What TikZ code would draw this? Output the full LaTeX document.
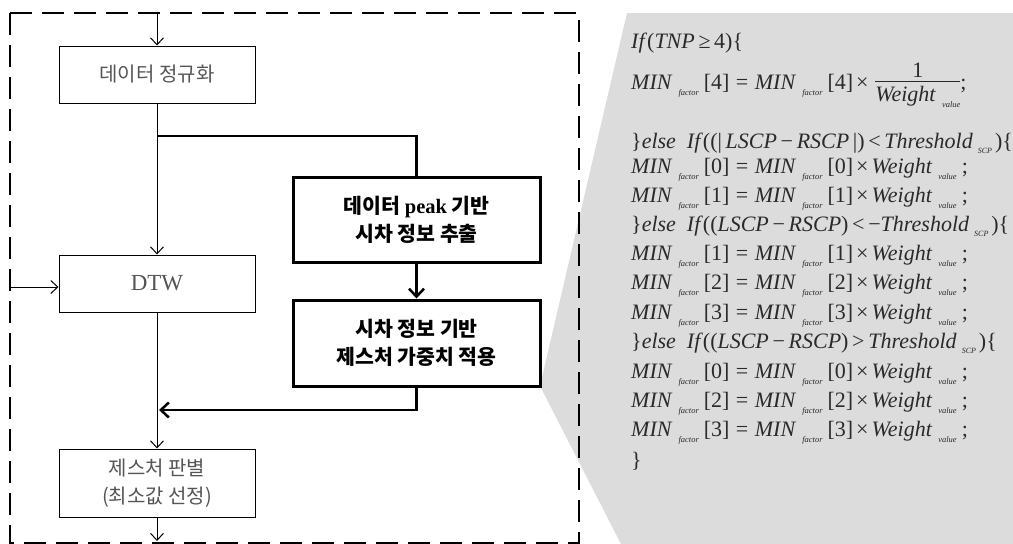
\documentclass[tikz,border=0pt]{standalone}
\usepackage{fontspec}
\setmainfont{Liberation Serif}
\newfontfamily\kr{Noto Sans CJK KR}
\usetikzlibrary{arrows.meta}
\definecolor{panelgray}{HTML}{DCDCDC}
\definecolor{codetext}{HTML}{2A2A2A}
\definecolor{lighttext}{HTML}{555555}
\newcommand\sbx[1]{\hspace{6pt}\raisebox{-6.5pt}{\fontsize{8.5}{8.5}\selectfont\itshape #1}\hspace{5pt}}
\newcommand\sbs[1]{\hspace{5pt}\raisebox{-5pt}{\fontsize{8}{8}\selectfont\itshape #1}\hspace{3pt}}
\newcommand\MINF{\textit{MIN}\sbx{factor}}
\newcommand\WV{\textit{Weight}\sbx{value}}
\newcommand\EQ{\hspace{6.5pt}=\hspace{6.5pt}}
\newcommand\TM{\hspace{3pt}×\hspace{3pt}}
\begin{document}
\begin{tikzpicture}[x=1pt,y=-1pt,
  thinbox/.style={draw, line width=1pt, minimum width=196pt, minimum height=57pt, inner sep=0pt,
    font=\kr\fontsize{20}{20}\selectfont, text=lighttext},
  boldbox/.style={draw, line width=3pt, minimum width=247pt, minimum height=85pt, inner sep=0pt,
    font=\kr\bfseries\fontsize{20.5}{28}\selectfont, align=center},
  thinline/.style={line width=1pt},
  boldline/.style={line width=2.5pt},
  thintip/.style={-{Straight Barb[length=7pt,width=13pt]}},
  boldtip/.style={-{Straight Barb[length=8pt,width=15pt]}},
  codeline/.style={anchor=base west, inner sep=0pt, font=\fontsize{22}{22}\selectfont, text=codetext}
]
\useasboundingbox (0,0) rectangle (1013,544);
\fill[white] (0,0) rectangle (1013,544);

% grey callout panel
\fill[panelgray] (627,13) -- (1013,13) -- (1013,544) -- (621,544) -- (540,386) -- cycle;

% dashed frame
\draw[line width=2.5pt, dash pattern=on 22pt off 10pt] (10,13) rectangle (579,543);

% nodes
\node[thinbox] (norm) at (157,74.5) {데이터 정규화};
\node[thinbox, font=\fontsize{23}{23}\selectfont] (dtw) at (157,283.5) {DTW};
\node[boldbox] (peak) at (416.5,219.5) {데이터 {\rmfamily\bfseries peak} 기반\\시차 정보 추출};
\node[boldbox, minimum height=86pt] (wgt) at (416.5,343) {시차 정보 기반\\제스처 가중치 적용};
\node[thinbox, minimum height=68pt, align=center, font=\kr\fontsize{20}{28}\selectfont] (dec) at (157,483) {제스처 판별\\(최소값 선정)};

\coordinate (top) at (157,13);
\coordinate (bot) at (157,541);
\coordinate (leftin) at (10,287);
\coordinate (split) at (157,136);
\coordinate (splitr) at (416.5,136);
\coordinate (retr) at (416.5,410);
\coordinate (retl) at (159,410);

% connectors
\draw[thinline, thintip] (top) -- (norm.north);
\draw[thinline, thintip] (norm.south) -- (dtw.north);
\draw[thinline, thintip] (leftin) -- (dtw.west |- leftin);
\draw[thinline, thintip] (dtw.south) -- (dec.north);
\draw[thinline, thintip] (dec.south) -- (bot);
\draw[boldline] (split) -- (splitr) -- (peak.north);
\draw[boldline, boldtip] (peak.south) -- (wgt.north);
\draw[boldline, boldtip] (wgt.south) -- (retr) -- (retl);

% code text
\node[codeline] (c1) at (631,48) {\textit{If}(\textit{TNP}\,≥\,4)\{};
\node[codeline] (c2) at (631,89) {\MINF[4]\EQ\MINF[4]\TM\,\raisebox{-1pt}{\begin{tabular}[c]{@{}c@{}}1\\[-3pt]\hline\rule{0pt}{20pt}\WV\end{tabular}};};
\node[codeline] (c3) at (631,148) {\}\textit{else}\ \ \textit{If}((|\,\textit{LSCP}\,−\,\textit{RSCP}\,|)\,<\,\textit{Threshold}\sbs{SCP})\{};
\node[codeline] (c4) at (631,173) {\MINF[0]\EQ\MINF[0]\TM\WV;};
\node[codeline] (c5) at (631,202) {\MINF[1]\EQ\MINF[1]\TM\WV;};
\node[codeline] (c6) at (631,231) {\}\textit{else}\ \ \textit{If}((\textit{LSCP}\,−\,\textit{RSCP})\,<\,−\textit{Threshold}\sbs{SCP})\{};
\node[codeline] (c7) at (631,260) {\MINF[1]\EQ\MINF[1]\TM\WV;};
\node[codeline] (c8) at (631,289) {\MINF[2]\EQ\MINF[2]\TM\WV;};
\node[codeline] (c9) at (631,319) {\MINF[3]\EQ\MINF[3]\TM\WV;};
\node[codeline] (c10) at (631,348) {\}\textit{else}\ \ \textit{If}((\textit{LSCP}\,−\,\textit{RSCP})\,>\,\textit{Threshold}\sbs{SCP})\{};
\node[codeline] (c11) at (631,378) {\MINF[0]\EQ\MINF[0]\TM\WV;};
\node[codeline] (c12) at (631,407) {\MINF[2]\EQ\MINF[2]\TM\WV;};
\node[codeline] (c13) at (631,436) {\MINF[3]\EQ\MINF[3]\TM\WV;};
\node[codeline] (c14) at (631,467) {\}};
\end{tikzpicture}
\end{document}
